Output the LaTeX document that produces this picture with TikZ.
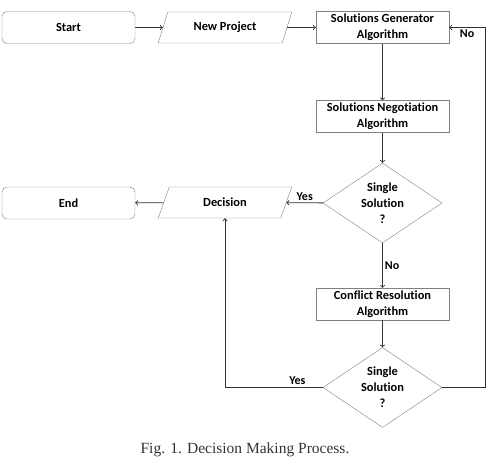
\documentclass[tikz,border=0pt]{standalone}
\usepackage{fontspec}
\setmainfont{Liberation Serif}
\newfontfamily\boxfont[Ligatures=NoCommon]{Carlito}
\usetikzlibrary{arrows,shapes.geometric}

\begin{document}
\begin{tikzpicture}[x=1pt,y=-1pt,
    box/.style={draw=black!50, minimum width=133pt, minimum height=32pt,
      inner sep=0pt, align=center,
      font=\boxfont\bfseries\fontsize{12.4}{16}\selectfont},
    term/.style={box, rounded corners=5pt},
    io/.style={box, trapezium, trapezium left angle=64, trapezium right angle=116,
      trapezium stretches=true, minimum width=134pt, minimum height=31pt},
    decide/.style={box, diamond, aspect=1.49, minimum width=119pt, minimum height=80pt},
    flow/.style={->, draw=black!80, line width=0.9pt},
    lbl/.style={font=\boxfont\bfseries\fontsize{12}{14}\selectfont, inner sep=2pt}]
    \useasboundingbox (0,0) rectangle (490,466);

% top row
\node[term] (start) at (68.5,27.5) {Start};
\node[io] (new) at (225,27.5) {New Project};
\node[box] (gen) at (382.5,27.5) {Solutions Generator\\Algorithm};
\node[box] (neg) at (382.5,116.5) {Solutions Negotiation\\Algorithm};

% first check
\node[decide] (single1) at (382.5,203) {Single\\Solution\\?};
\node[io] (dec) at (225,202.5) {Decision};
\node[term] (end) at (68.5,203) {End};

% second check
\node[box] (conf) at (382.5,304) {Conflict Resolution\\Algorithm};
\node[decide] (single2) at (382.5,387.5) {Single\\Solution\\?};
\coordinate (back) at (485,27.5);

\node[font=\fontsize{15.5}{18}\selectfont, text=black!80] (caption) at (245,450) {Fig. 1. Decision Making Process.};

\draw[flow] (start) -- (new);
\draw[flow] (new) -- (gen);
\draw[flow] (gen) -- (neg);
\draw[flow] (neg) -- (single1);
\draw[flow] (single1) -- node[lbl, above] {Yes} (dec);
\draw[flow] (dec) -- (end);
\draw[flow] (single1) -- node[lbl, right] {No} (conf);
\draw[flow] (conf) -- (single2);
\draw[flow] (single2.west) -| node[lbl, pos=0.13, above] {Yes} (dec.south);
\draw[flow] (single2.east) -| (back) -- node[lbl, below] {No} (gen.east);
  \end{tikzpicture}
\end{document}
